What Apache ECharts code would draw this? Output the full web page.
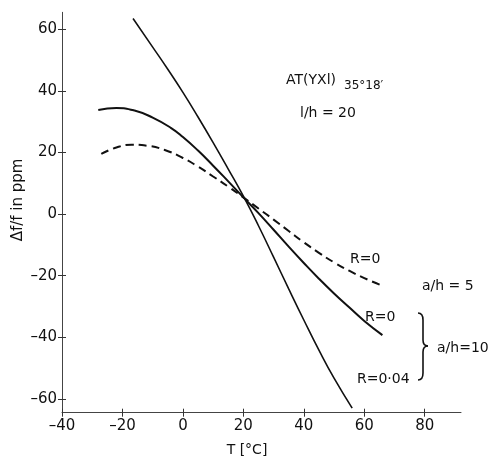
<!DOCTYPE html>
<html>
<head>
<meta charset="utf-8">
<script src="https://cdn.jsdelivr.net/npm/echarts@6/dist/echarts.min.js"></script>
<style>
html,body{margin:0;padding:0;background:#fff;}
#c{width:494px;height:456px;}
</style>
</head>
<body>
<div id="c"></div>
<script>
// Tick labels
const xTicks = [-40, -20, 0, 20, 40, 60, 80];
const yTicks = [-60, -40, -20, 0, 20, 40, 60];

// Dashed curve: R = 0, a/h = 5
const dashT = [-27, -22, -17, -12, -6, 0, 5, 10, 15, 20, 25, 30, 35, 40, 45, 50, 55, 60, 66];
const dashF = [19.5, 21.6, 22.5, 22.2, 20.8, 18.2, 15.4, 12.2, 8.9, 5.4, 1.8, -1.8, -5.5, -9.2, -12.6, -15.7, -18.4, -20.8, -23.3];

// Solid curve: R = 0, a/h = 10
const midT = [-28, -22, -16, -10, -4, 0, 5, 10, 15, 20, 25, 30, 35, 40, 45, 50, 55, 60, 66];
const midF = [33.8, 34.4, 33.6, 31.3, 28.0, 25.0, 20.6, 15.7, 10.6, 5.4, 0.3, -5.1, -10.6, -15.9, -21, -25.8, -30.3, -34.7, -39.3];

// Steep curve: R = 0.04, a/h = 10
const steepT = [-16.5, -10, -5, 0, 5, 10, 15, 20, 25, 30, 35, 40, 45, 50, 56];
const steepF = [63.5, 54.2, 47, 39.5, 31.5, 23.2, 14.6, 5.8, -3.8, -14, -24.3, -34.4, -44.2, -53.3, -63];

const zip = (a, b) => a.map((v, i) => [v, b[i]]);

const FONT = '"DejaVu Sans", sans-serif';
const INK = '#111';

const chart = echarts.init(document.getElementById('c'), null, {renderer: 'canvas'});

const xBase = {
  type: 'value', min: -40, max: 92, interval: 20,
  splitLine: {show: false}
};
const yBase = {
  type: 'value', min: -64.5, max: 65.5,
  splitLine: {show: false}
};

function txt(text, x, y, size, align) {
  return {
    type: 'text', x: x, y: y, silent: true,
    style: {text: text, fill: INK, fontFamily: FONT, fontSize: size || 14,
            align: align || 'left', verticalAlign: 'middle'}
  };
}
function qc(x1, y1, cx, cy, x2, y2) {
  return {type: 'bezierCurve', silent: true,
          shape: {x1: x1, y1: y1, cpx1: cx, cpy1: cy, x2: x2, y2: y2},
          style: {fill: null, stroke: INK, lineWidth: 1.6}};
}
function ln(x1, y1, x2, y2) {
  return {type: 'line', silent: true,
          shape: {x1: x1, y1: y1, x2: x2, y2: y2},
          style: {stroke: INK, lineWidth: 1.6}};
}

chart.setOption({
  animation: false,
  backgroundColor: '#fff',
  grid: {left: 62, right: 33, top: 12.3, bottom: 43.3},
  xAxis: [
    Object.assign({}, xBase, {
      position: 'bottom',
      axisLine: {show: true, onZero: false, lineStyle: {color: '#444', width: 1}},
      axisTick: {show: true, inside: false, length: 4, customValues: xTicks, lineStyle: {color: '#333'}},
      axisLabel: {show: true, customValues: xTicks, margin: 6, color: INK, fontFamily: FONT, fontSize: 15,
                  formatter: v => String(v).replace('-', '\u2013')}
    }),
    Object.assign({}, xBase, {
      position: 'bottom',
      axisLine: {show: false, onZero: false},
      axisTick: {show: true, inside: true, length: 4, customValues: xTicks, lineStyle: {color: '#333'}},
      axisLabel: {show: false}
    })
  ],
  yAxis: [
    Object.assign({}, yBase, {
      position: 'left',
      axisLine: {show: true, onZero: false, lineStyle: {color: '#444', width: 1}},
      axisTick: {show: true, inside: false, length: 4, customValues: yTicks, lineStyle: {color: '#333'}},
      axisLabel: {show: true, customValues: yTicks, margin: 5, color: INK, fontFamily: FONT, fontSize: 15,
                  formatter: v => String(v).replace('-', '\u2013')}
    }),
    Object.assign({}, yBase, {
      position: 'left',
      axisLine: {show: false, onZero: false},
      axisTick: {show: true, inside: true, length: 4, customValues: yTicks, lineStyle: {color: '#333'}},
      axisLabel: {show: false}
    })
  ],
  series: [
    {type: 'line', data: zip(dashT, dashF), smooth: true, symbol: 'none',
     lineStyle: {color: INK, width: 2, type: [8, 5]}},
    {type: 'line', data: zip(midT, midF), smooth: true, symbol: 'none',
     lineStyle: {color: INK, width: 2}},
    {type: 'line', data: zip(steepT, steepF), smooth: true, symbol: 'none',
     lineStyle: {color: INK, width: 1.6}}
  ],
  graphic: [
    {
      type: 'text', x: 18, y: 200, rotation: Math.PI / 2, silent: true,
      style: {text: '\u0394f/f in ppm', fill: INK, fontFamily: FONT, fontSize: 15,
              align: 'center', verticalAlign: 'middle'}
    },
    txt('T [\u00b0C]', 247, 450, 14, 'center'),
    txt('AT(YXl)', 286, 80, 14),
    txt('35\u00b018\u2032', 344, 86, 12),
    txt('l/h = 20', 300, 113, 14),
    txt('R=0', 350, 259, 14),
    txt('a/h = 5', 422, 286, 14),
    txt('R=0', 365, 317, 14),
    txt('a/h=10', 437, 348, 14),
    txt('R=0\u00b704', 357, 379, 14),
    qc(418, 313, 423, 313, 423, 320),
    ln(423, 320, 423, 340),
    qc(423, 340, 423, 346, 428, 346),
    qc(428, 346, 423, 346, 423, 352),
    ln(423, 352, 423, 373),
    qc(423, 373, 423, 380, 418, 380)
  ]
});
</script>
</body>
</html>
